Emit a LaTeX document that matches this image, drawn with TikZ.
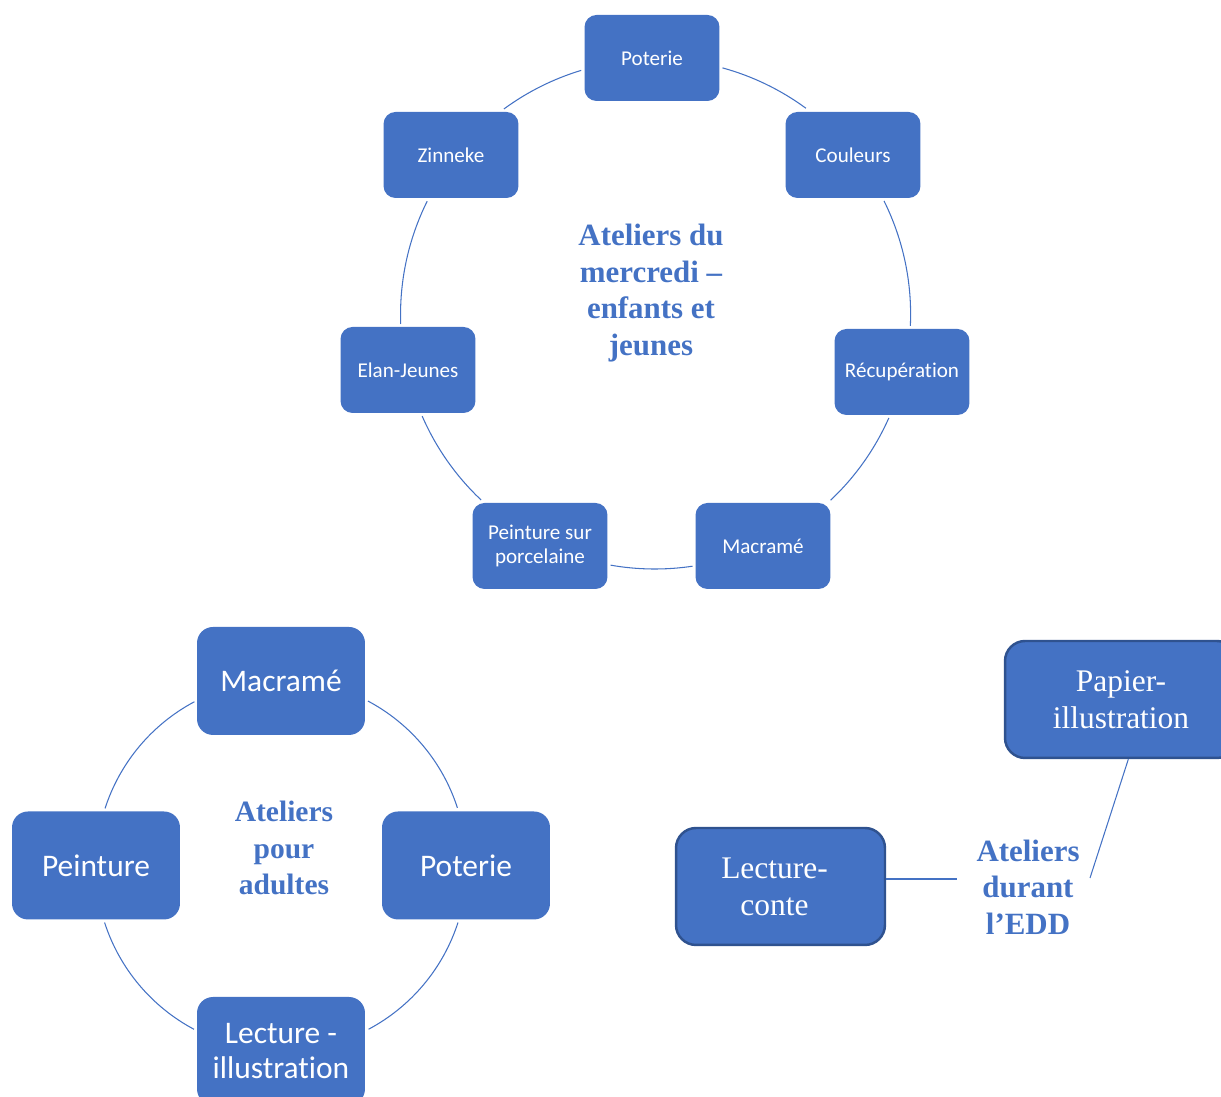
\documentclass[tikz,border=0pt]{standalone}
\usepackage{fontspec}
\setmainfont{Liberation Serif}
\newfontfamily\calibri[Ligatures=NoCommon]{Carlito}
\usepackage{tikz}
\usetikzlibrary{shapes, positioning}
\definecolor{boxblue}{HTML}{4472C4}
\definecolor{darkblue}{HTML}{2F528F}
\tikzstyle{smallbox} = [rectangle, rounded corners=0.24cm, minimum width=2.7cm, minimum height=1.72cm, inner sep=0pt, outer sep=0.06cm, text centered, align=center, fill=boxblue, text=white, font=\calibri\fontsize{12}{13.2}\selectfont]
\tikzstyle{bigbox} = [rectangle, rounded corners=0.32cm, minimum width=3.36cm, minimum height=2.16cm, inner sep=0pt, outer sep=0.06cm, text centered, align=center, fill=boxblue, text=white, font=\calibri\fontsize{17.9}{20.4}\selectfont]
\tikzstyle{eddbox} = [rectangle, rounded corners=0.4cm, minimum height=2.34cm, inner sep=0pt, text centered, align=center, draw=darkblue, line width=1.4pt, fill=boxblue, text=white, font=\fontsize{17.9}{21}\selectfont]
\tikzstyle{hub} = [align=center, text=boxblue, font=\bfseries\fontsize{17.6}{20.8}\selectfont]
\tikzstyle{ring} = [draw=boxblue, line width=0.6pt]

\begin{document}
\begin{tikzpicture}[x=0.02cm, y=0.02cm]
	\useasboundingbox (0,0) rectangle (1221,1097);

	% Ateliers du mercredi
	\node(merc) [hub] at (651,804) {Ateliers du\\mercredi –\\enfants et\\jeunes};
	\node(pot) [smallbox] at (652,1039) {Poterie};
	\node(cou) [smallbox] at (853,942) {Couleurs};
	\node(rec) [smallbox] at (902,725) {Récupération};
	\node(mac) [smallbox] at (763,551) {Macramé};
	\node(por) [smallbox] at (540,551) {Peinture sur\\porcelaine};
	\node(ela) [smallbox] at (408,727) {Elan-Jeunes};
	\node(zin) [smallbox] at (451,942) {Zinneke};

	% Ateliers pour adultes
	\node(adul) [hub, font=\bfseries\fontsize{16.8}{20.8}\selectfont] at (284,249) {Ateliers\\pour\\adultes};
	\node(amac) [bigbox] at (281,416) {Macramé};
	\node(apot) [bigbox] at (466,231.5) {Poterie};
	\node(alec) [bigbox] at (281,46) {Lecture -\\illustration};
	\node(apei) [bigbox] at (96,231.5) {Peinture};

	% Ateliers durant l'EDD
	\node(edd) [hub] at (1028,210) {Ateliers\\durant\\l’EDD};
	\node(lc) [eddbox, minimum width=4.18cm] at (780.5,210.5) {Lecture-\hspace*{0.24cm}\\conte\hspace*{0.24cm}};
	\node(pap) [eddbox, minimum width=4.64cm] at (1121,397.5) {Papier-\\illustration};
	\coordinate (eddL) at (957,218);
	\coordinate (eddT) at (1090,219);

	% Draw ring arcs
	\draw [ring] (pot.-8.55) arc[start angle=74.65, end angle=53.7, radius=255];
	\draw [ring] (cou.-56.6) arc[start angle=26.4, end angle=-2.6, radius=255];
	\draw [ring] (rec.-106.8) arc[start angle=-23.9, end angle=-46.7, radius=255];
	\draw [ring] (mac.196.4) arc[start angle=-81.5, end angle=-100, radius=255];
	\draw [ring] (por.142.5) arc[start angle=-133.3, end angle=-156.5, radius=255];
	\draw [ring] (ela.99.6) arc[start angle=-177.9, end angle=-206.4, radius=255];
	\draw [ring] (zin.41) arc[start angle=126.3, end angle=106.8, radius=255];

	\draw [ring] (amac.-13.7) arc[start angle=62, end angle=17.9, radius=185.5];
	\draw [ring] (apot.-98.5) arc[start angle=-17.9, end angle=-62, radius=185.5];
	\draw [ring] (alec.166.3) arc[start angle=-118, end angle=-162.1, radius=185.5];
	\draw [ring] (apei.81.5) arc[start angle=162.1, end angle=118, radius=185.5];

	\draw [ring] (lc.east |- eddL) -- (eddL);
	\draw [ring] (pap.-83.5) -- (eddT);
\end{tikzpicture}
\end{document}
